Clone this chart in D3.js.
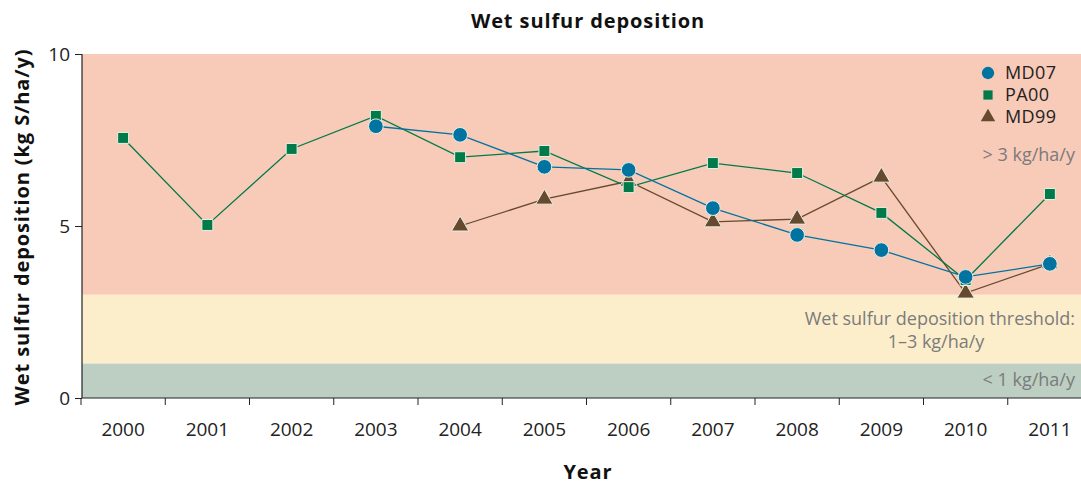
<!DOCTYPE html>
<html>
<head>
<meta charset="utf-8">
<script src="https://cdn.jsdelivr.net/npm/d3@7"></script>
<style>
  body { margin: 0; background: #fff; }
  text { font-family: "Open Sans", "Noto Sans", sans-serif; }
</style>
</head>
<body>
<script>
var years = ["2000", "2001", "2002", "2003", "2004", "2005", "2006", "2007", "2008", "2009", "2010", "2011"];
var yTicks = [0, 5, 10];

// values in kg S/ha/y, null = no data
var md07 = [null, null, null, 7.9, 7.65, 6.72, 6.63, 5.52, 4.74, 4.3, 3.52, 3.9];
var pa00 = [7.56, 5.03, 7.24, 8.2, 7.0, 7.18, 6.13, 6.83, 6.54, 5.38, 3.43, 5.93];
var md99 = [null, null, null, null, 5.0, 5.78, 6.3, 5.12, 5.2, 6.42, 3.05, 3.9];

var bands = [
    {from: 3, to: 10, colour: "#f8cab8"},
    {from: 1, to: 3, colour: "#fdeecb"},
    {from: 0, to: 1, colour: "#bccfc2"}
];

var width = 1081, height = 487;

var svg = d3.select("body").append("svg")
    .attr("width", width).attr("height", height);

var x = d3.scaleBand().domain(years).range([81, 1092]).padding(0);
var y = d3.scaleLinear().domain([0, 10]).range([398, 54]);

function cx(i) { return x(years[i]) + x.bandwidth() / 2; }

//Background bands
svg.selectAll(".band").data(bands).enter().append("rect")
    .attr("x", 82).attr("width", width - 82)
    .attr("y", function(d) { return y(d.to); })
    .attr("height", function(d) { return y(d.from) - y(d.to); })
    .attr("fill", function(d) { return d.colour; });

//Band labels
var grey = "#7b7b7b";
function bandLabel(tx, ty, anchor, txt) {
    svg.append("text").attr("x", tx).attr("y", ty).attr("text-anchor", anchor)
        .attr("fill", grey).style("font-size", "18px").text(txt);
}
bandLabel(1075, 161, "end", "> 3 kg/ha/y");
bandLabel(1075, 325, "end", "Wet sulfur deposition threshold:");
bandLabel(936, 348, "middle", "1–3 kg/ha/y");
bandLabel(1075, 386, "end", "< 1 kg/ha/y");

//Axes
var yAxis = svg.append("g").attr("transform", "translate(82,0)")
    .call(d3.axisLeft(y).tickValues(yTicks).tickSize(7).tickPadding(5));
var xAxis = svg.append("g").attr("transform", "translate(0,398)")
    .call(d3.axisBottom(x).tickSize(0).tickPadding(25));
// ticks sit on the band boundaries
xAxis.selectAll(".bound").data(years).enter().append("line")
    .attr("x1", function(d) { return x(d); }).attr("x2", function(d) { return x(d); })
    .attr("y1", 0).attr("y2", 7).attr("stroke", "#222");
[yAxis, xAxis].forEach(function(a) {
    a.selectAll(".tick line").attr("stroke", "#222");
    a.selectAll(".tick text").attr("fill", "#222").style("font-size", "19px")
        .style("font-family", "'Open Sans', sans-serif");
});
xAxis.select(".domain").attr("stroke", "#222").attr("stroke-width", 1.2).attr("d", "M82,0H" + width);
yAxis.select(".domain").attr("stroke", "#222").attr("stroke-width", 1.2).attr("d", "M0,54V398");

//Titles
svg.append("text").attr("x", 588).attr("y", 28).attr("text-anchor", "middle")
    .style("font-size", "20px").style("font-weight", "bold").style("letter-spacing", "0.9px")
    .attr("fill", "#111").text("Wet sulfur deposition");
svg.append("text").attr("x", 588).attr("y", 479).attr("text-anchor", "middle")
    .style("font-size", "20px").style("font-weight", "bold").style("letter-spacing", "0.9px")
    .attr("fill", "#111").text("Year");
svg.append("text").attr("transform", "translate(29,227)rotate(-90)")
    .attr("text-anchor", "middle")
    .style("font-size", "20px").style("font-weight", "bold").style("letter-spacing", "0.9px")
    .attr("fill", "#111").text("Wet sulfur deposition (kg S/ha/y)");

//Series
var series = [
    {name: "MD99", values: md99, colour: "#654a2d", shape: d3.symbolTriangle, size: 130},
    {name: "PA00", values: pa00, colour: "#007a48", shape: d3.symbolSquare, size: 120},
    {name: "MD07", values: md07, colour: "#0173a0", shape: d3.symbolCircle, size: 170}
];

var line = d3.line()
    .defined(function(d) { return d != null; })
    .x(function(d, i) { return cx(i); })
    .y(function(d) { return y(d); });

series.forEach(function(s) {
    svg.append("path").attr("d", line(s.values))
        .attr("fill", "none").attr("stroke", s.colour).attr("stroke-width", 1.3);
});
series.forEach(function(s) {
    var pts = s.values.map(function(v, i) { return {v: v, i: i}; })
        .filter(function(p) { return p.v != null; });
    svg.selectAll(".pt-" + s.name).data(pts).enter().append("path")
        .attr("transform", function(p) { return "translate(" + cx(p.i) + "," + y(p.v) + ")"; })
        .attr("d", d3.symbol().type(s.shape).size(s.size))
        .attr("fill", s.colour).attr("stroke", "#e8efe6").attr("stroke-width", 1);
});

//Legend
var legend = [
    {name: "MD07", colour: "#0173a0", shape: d3.symbolCircle, size: 120},
    {name: "PA00", colour: "#007a48", shape: d3.symbolSquare, size: 85},
    {name: "MD99", colour: "#654a2d", shape: d3.symbolTriangle, size: 90}
];
var lg = svg.selectAll(".legend").data(legend).enter().append("g")
    .attr("transform", function(d, i) { return "translate(988," + (73 + i * 22) + ")"; });
lg.append("path").attr("d", function(d) { return d3.symbol().type(d.shape).size(d.size)(); })
    .attr("fill", function(d) { return d.colour; });
lg.append("text").attr("x", 17).attr("y", 6).style("font-size", "18px").style("letter-spacing", "0.4px")
    .attr("fill", "#222").text(function(d) { return d.name; });
</script>
</body>
</html>
